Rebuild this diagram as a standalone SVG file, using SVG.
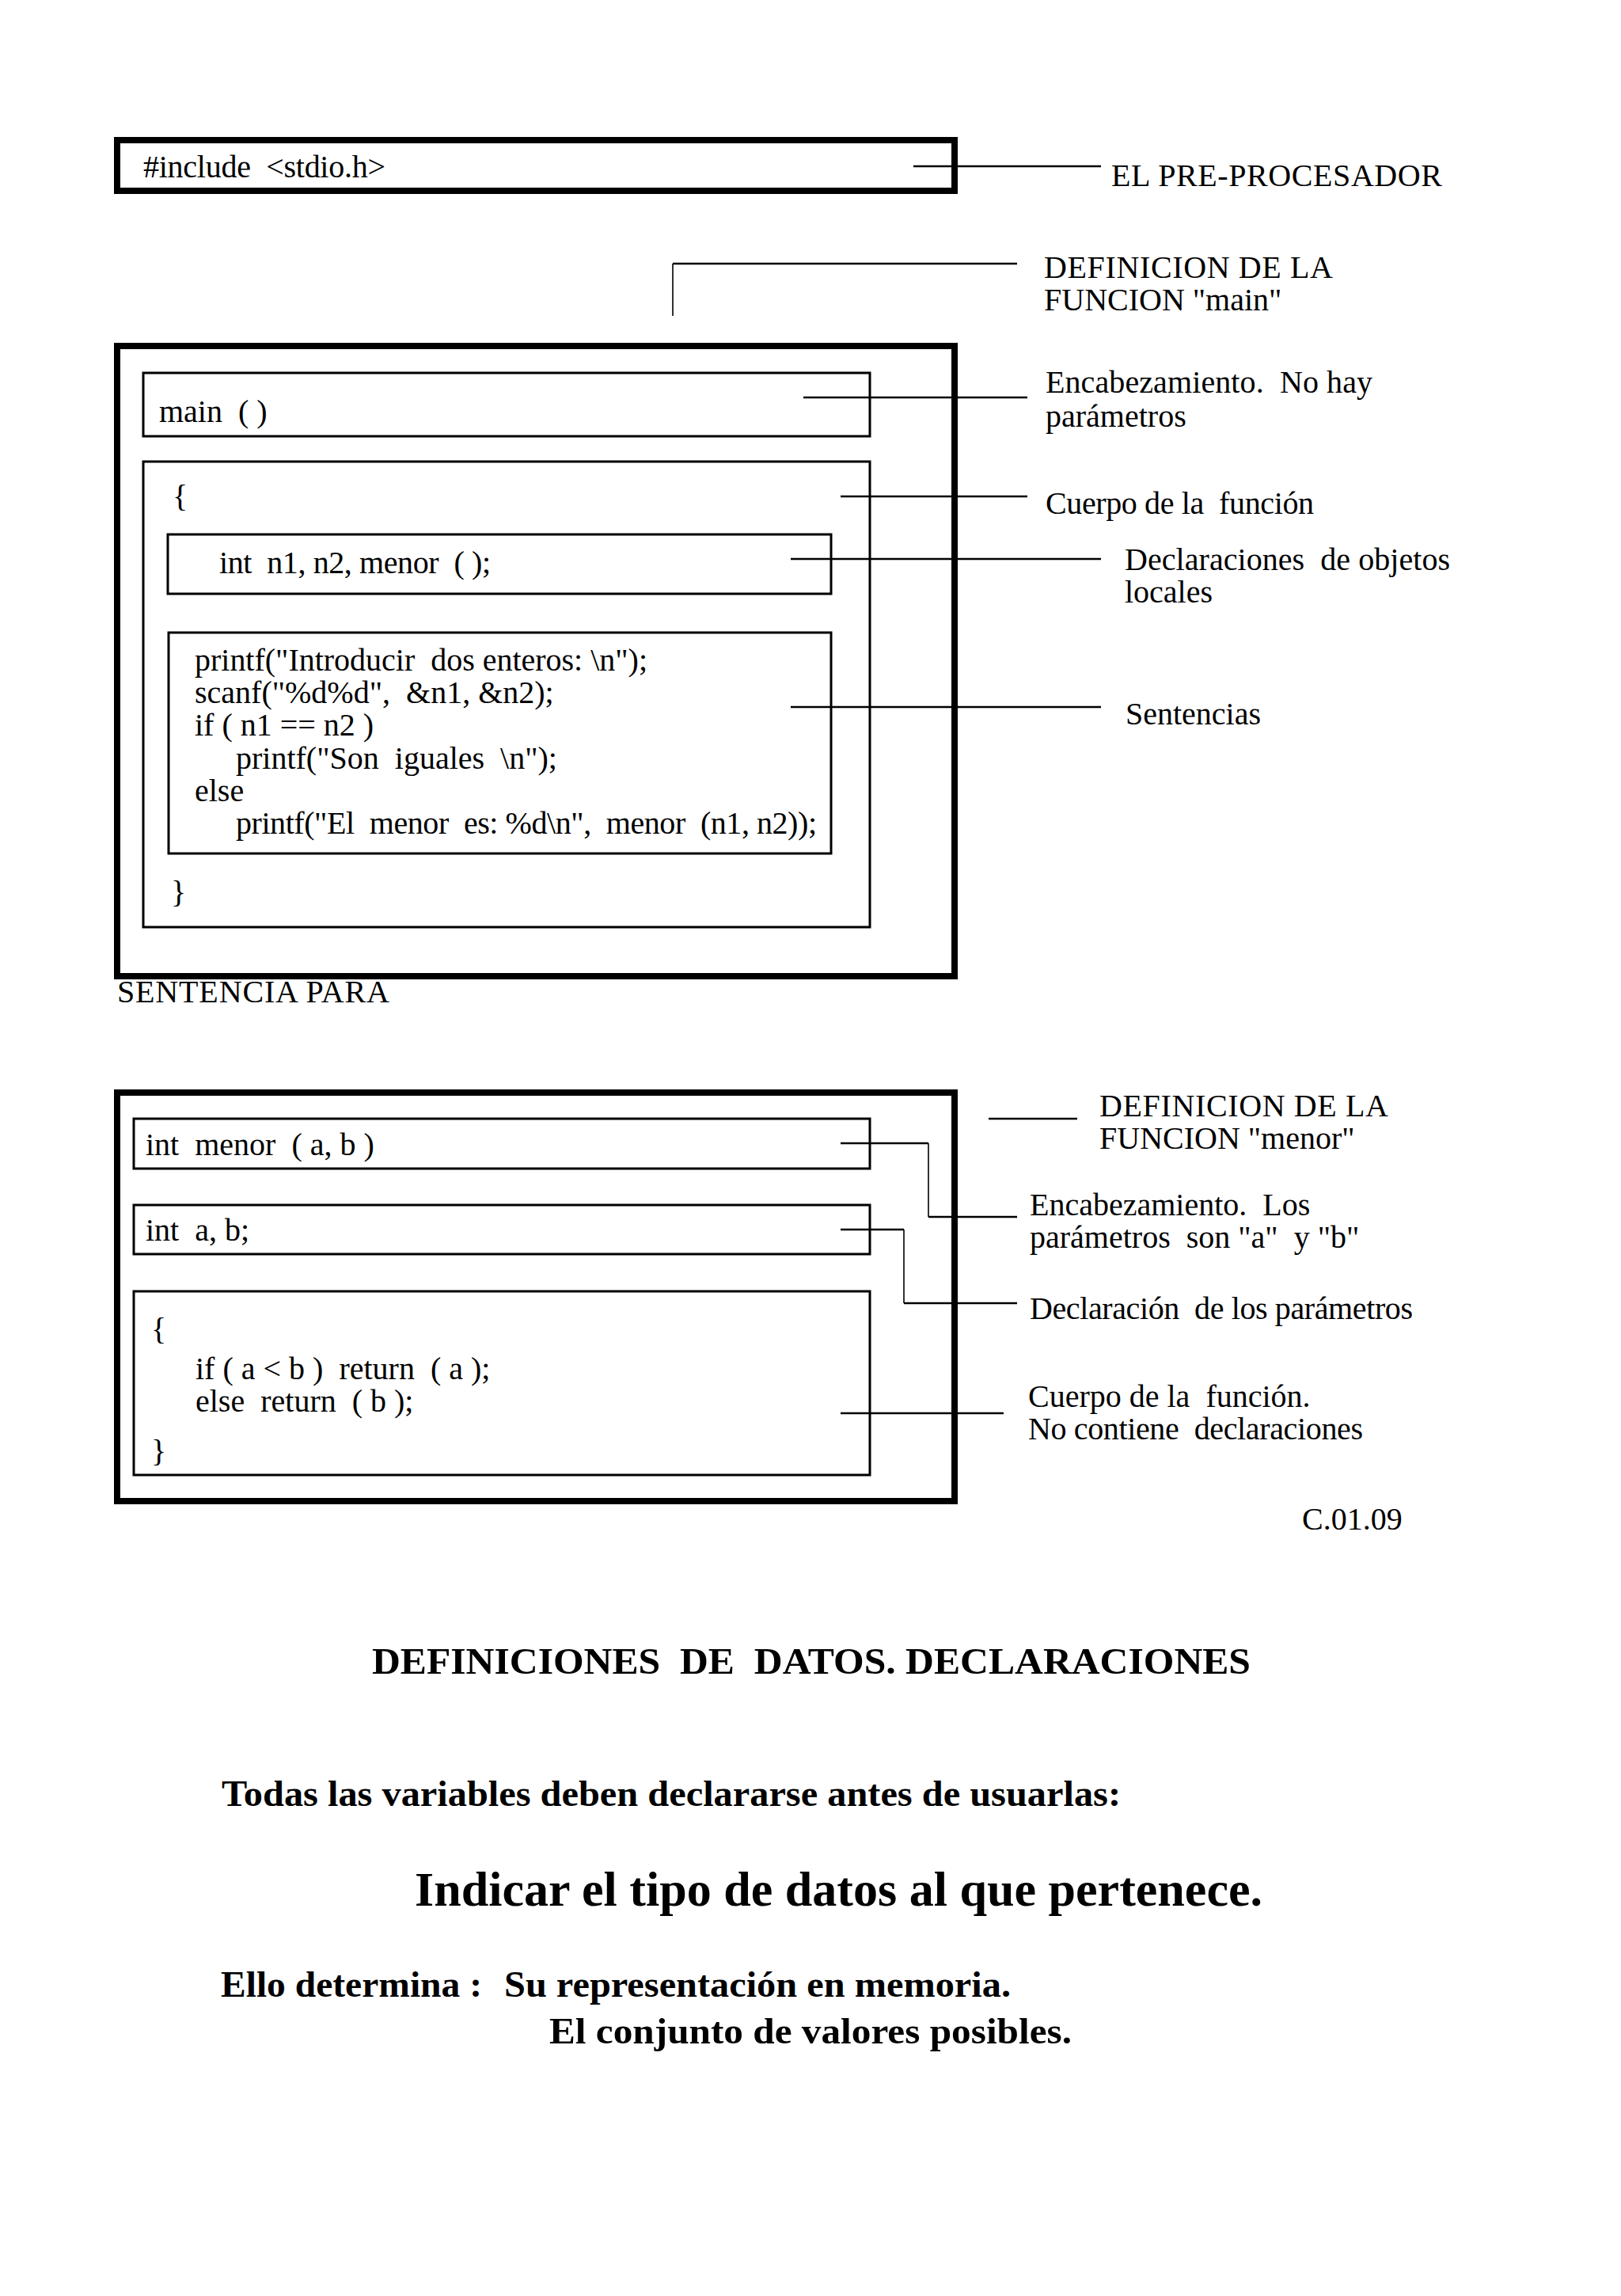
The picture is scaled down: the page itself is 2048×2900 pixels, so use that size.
<svg xmlns="http://www.w3.org/2000/svg" width="2048" height="2900" viewBox="0 0 2048 2900">
<style>
text{font-family:"Liberation Serif","Times New Roman",serif;font-size:40px;fill:#000;white-space:pre}
.b{font-weight:bold}
.thick{fill:none;stroke:#000;stroke-width:8}
.thin{fill:none;stroke:#000;stroke-width:3}
.c{fill:none;stroke:#000;stroke-width:2.5}
.v{fill:none;stroke:#000;stroke-width:1.6}
</style>
<rect width="2048" height="2900" fill="#fff"/>

<g id="include">
<rect class="thick" x="148" y="177" width="1058" height="64"/>
<text x="181" y="224" textLength="306">#include  &lt;stdio.h&gt;</text>
</g>
<g id="lbl-preprocesador"><text x="1404" y="235" textLength="418">EL PRE-PROCESADOR</text></g>
<g id="lbl-def-main">
<text x="1319" y="351" textLength="365">DEFINICION DE LA</text>
<text x="1319" y="392">FUNCION "main"</text>
</g>

<g id="main-func">
<rect class="thick" x="148" y="437" width="1058" height="796"/>
</g>
<g id="main-header">
<rect class="thin" x="181" y="471" width="918" height="80"/>
<text x="201" y="533">main  ( )</text>
</g>
<g id="lbl-encab-main">
<text x="1321" y="496" textLength="413">Encabezamiento.  No hay</text>
<text x="1321" y="539">parámetros</text>
</g>
<g id="main-body">
<rect class="thin" x="181" y="583" width="918" height="588"/>
<text x="218" y="640">{</text>
<text x="216" y="1140">}</text>
</g>
<g id="lbl-cuerpo-main"><text x="1321" y="649" textLength="339">Cuerpo de la  función</text></g>
<g id="main-decl">
<rect class="thin" x="212" y="675" width="838" height="75"/>
<text x="277" y="724" textLength="343">int  n1, n2, menor  ( );</text>
</g>
<g id="lbl-decl">
<text x="1421" y="720" textLength="411">Declaraciones  de objetos</text>
<text x="1421" y="761">locales</text>
</g>
<g id="main-stmts">
<rect class="thin" x="213" y="799" width="837" height="279"/>
<text x="246" y="847" textLength="572">printf("Introducir  dos enteros: \n");</text>
<text x="246" y="888">scanf("%d%d",  &amp;n1, &amp;n2);</text>
<text x="246" y="929">if ( n1 == n2 )</text>
<text x="298" y="971">printf("Son  iguales  \n");</text>
<text x="246" y="1012">else</text>
<text x="298" y="1053" textLength="734">printf("El  menor  es: %d\n",  menor  (n1, n2));</text>
</g>
<g id="lbl-sentencias"><text x="1422" y="915">Sentencias</text></g>
<g id="lbl-sentencia-para"><text x="148" y="1266" textLength="344">SENTENCIA PARA</text></g>

<g id="menor-func">
<rect class="thick" x="148" y="1380" width="1058" height="516"/>
</g>
<g id="lbl-def-menor">
<text x="1389" y="1410" textLength="365">DEFINICION DE LA</text>
<text x="1389" y="1451">FUNCION "menor"</text>
</g>
<g id="menor-header">
<rect class="thin" x="169" y="1413" width="930" height="63"/>
<text x="184" y="1459">int  menor  ( a, b )</text>
</g>
<g id="lbl-encab-menor">
<text x="1301" y="1535">Encabezamiento.  Los</text>
<text x="1301" y="1576">parámetros  son "a"  y "b"</text>
</g>
<g id="menor-params">
<rect class="thin" x="169" y="1522" width="930" height="62"/>
<text x="184" y="1567">int  a, b;</text>
</g>
<g id="lbl-params"><text x="1301" y="1666" textLength="484">Declaración  de los parámetros</text></g>
<g id="menor-body">
<rect class="thin" x="169" y="1631" width="930" height="232"/>
<text x="191" y="1692">{</text>
<text x="247" y="1742">if ( a &lt; b )  return  ( a );</text>
<text x="247" y="1783">else  return  ( b );</text>
<text x="191" y="1846">}</text>
</g>
<g id="lbl-cuerpo-menor">
<text x="1299" y="1777">Cuerpo de la  función.</text>
<text x="1299" y="1818" textLength="423">No contiene  declaraciones</text>
</g>
<g id="code-ref"><text x="1645" y="1932">C.01.09</text></g>

<g id="connectors">
<line class="c" x1="1154" y1="210" x2="1391" y2="210"/>
<line class="v" x1="850" y1="399" x2="850" y2="333"/>
<line class="c" x1="850" y1="333" x2="1285" y2="333"/>
<line class="c" x1="1015" y1="502" x2="1298" y2="502"/>
<line class="c" x1="1062" y1="627" x2="1298" y2="627"/>
<line class="c" x1="999" y1="706" x2="1391" y2="706"/>
<line class="c" x1="999" y1="893" x2="1391" y2="893"/>
<line class="c" x1="1249" y1="1413" x2="1361" y2="1413"/>
<line class="c" x1="1062" y1="1444" x2="1173" y2="1444"/>
<line class="v" x1="1173" y1="1444" x2="1173" y2="1537"/>
<line class="c" x1="1173" y1="1537" x2="1285" y2="1537"/>
<line class="c" x1="1062" y1="1553" x2="1142" y2="1553"/>
<line class="v" x1="1142" y1="1553" x2="1142" y2="1646"/>
<line class="c" x1="1142" y1="1646" x2="1285" y2="1646"/>
<line class="c" x1="1062" y1="1785" x2="1268" y2="1785"/>
</g>

<g id="bottom-text">
<text class="b" x="470" y="2114" style="font-size:47px" textLength="1110" lengthAdjust="spacingAndGlyphs">DEFINICIONES  DE  DATOS. DECLARACIONES</text>
<text class="b" x="280" y="2281" style="font-size:47px" textLength="1136" lengthAdjust="spacingAndGlyphs">Todas las variables deben declararse antes de usuarlas:</text>
<text class="b" x="524" y="2407" style="font-size:62px" textLength="1071" lengthAdjust="spacingAndGlyphs">Indicar el tipo de datos al que pertenece.</text>
<text class="b" x="279" y="2522" style="font-size:47px" textLength="330" lengthAdjust="spacingAndGlyphs">Ello determina :</text>
<text class="b" x="637" y="2522" style="font-size:47px" textLength="640" lengthAdjust="spacingAndGlyphs">Su representación en memoria.</text>
<text class="b" x="694" y="2581" style="font-size:47px" textLength="660" lengthAdjust="spacingAndGlyphs">El conjunto de valores posibles.</text>
</g>
</svg>
